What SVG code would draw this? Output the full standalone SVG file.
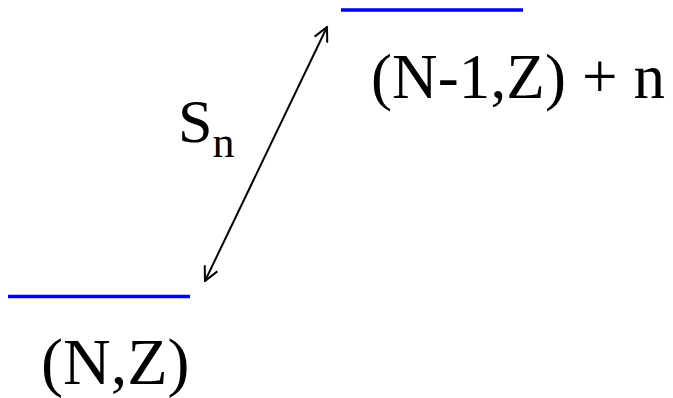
<svg xmlns="http://www.w3.org/2000/svg" width="673" height="398" viewBox="0 0 673 398">
<style>
.lvl{stroke:#0000ee;stroke-width:3.5;fill:none}
.lbl{font-family:"Liberation Serif","Times New Roman",serif;fill:#000}
.conn{stroke:#000;stroke-width:2;fill:none}
</style>
<defs>
<marker id="ah" viewBox="0 0 16 16" refX="15" refY="8" markerWidth="16" markerHeight="16" markerUnits="userSpaceOnUse" orient="auto-start-reverse">
<path d="M1,1 L15,8 L1,15" fill="none" stroke="#000" stroke-width="2"/>
</marker>
</defs>
<g id="upper">
<line class="lvl" x1="341" y1="10" x2="523" y2="10"/>
<text class="lbl" x="371" y="98" font-size="63" textLength="294" lengthAdjust="spacing">(N-1,Z) + n</text>
</g>
<g id="lower">
<line class="lvl" x1="8" y1="296.5" x2="190" y2="296.5"/>
<text class="lbl" x="41" y="384" font-size="66">(N,Z)</text>
</g>
<g id="sn">
<text class="lbl" x="178" y="142" font-size="62">S<tspan font-size="44" dy="15">n</tspan></text>
</g>
<g id="connectors">
<line class="conn" x1="205" y1="281" x2="327" y2="27" marker-start="url(#ah)" marker-end="url(#ah)"/>
</g>
</svg>
